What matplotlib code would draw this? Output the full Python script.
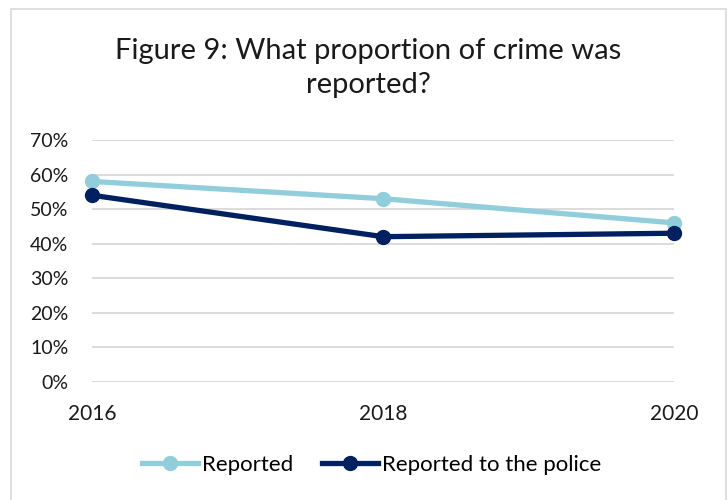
import matplotlib.pyplot as plt
import matplotlib
from matplotlib.patches import Rectangle
from matplotlib.ticker import PercentFormatter

matplotlib.rcParams['font.family'] = ['Lato', 'DejaVu Sans']

years = [2016, 2018, 2020]
reported = [0.58, 0.53, 0.46]
reported_police = [0.54, 0.42, 0.43]
series_labels = ["Reported", "Reported to the police"]
title = "Figure 9: What proportion of crime was\nreported?"

fig = plt.figure(figsize=(7.28, 5.0), dpi=100)
ax = fig.add_axes([92 / 728, 118.3 / 500, (674 - 92) / 728, (381.7 - 140) / 500])

# Excel-style chart frame
fig.patches.append(Rectangle((11 / 728, -0.05), (726 - 11) / 728, 1.05 - 9 / 500,
                             transform=fig.transFigure, fill=False,
                             edgecolor="#D9D9D9", linewidth=1.2))

ax.plot(years, reported, color="#92CDDC", linewidth=3.8, marker="o",
        markersize=10, clip_on=False, zorder=3, label=series_labels[0])
ax.plot(years, reported_police, color="#002060", linewidth=3.8, marker="o",
        markersize=10, clip_on=False, zorder=4, label=series_labels[1])

ax.set_xlim(2016, 2020)
ax.set_ylim(0, 0.7)
ax.set_xticks(years)
ax.set_yticks([i / 10 for i in range(8)])
ax.yaxis.set_major_formatter(PercentFormatter(1.0, decimals=0))
ax.tick_params(axis="both", length=0, labelsize=14, colors="#1a1a1a")
ax.tick_params(axis="x", labelsize=15, pad=16)
ax.tick_params(axis="y", pad=17)
ax.grid(axis="y", color="#D9D9D9", linewidth=1.3)
ax.set_axisbelow(True)
for s in ax.spines.values():
    s.set_visible(False)

fig.text(368 / 728, 1 - 68 / 500, title, ha="center", va="center",
         fontsize=21, linespacing=1.4, color="#1a1a1a")

fig.legend(loc="center", bbox_to_anchor=(372 / 728, 1 - 465 / 500), ncol=2,
           frameon=False, fontsize=16, handlelength=2.5, handletextpad=0.2,
           columnspacing=1.3)

fig.savefig("out.png", dpi=100)
